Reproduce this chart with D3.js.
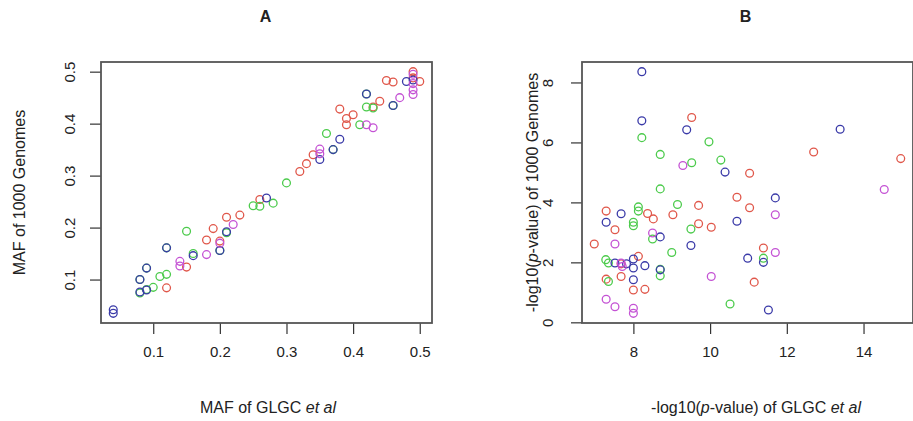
<!DOCTYPE html>
<html>
<head>
<meta charset="utf-8">
<script src="https://cdn.jsdelivr.net/npm/d3@7/dist/d3.min.js"></script>
<style>
  html, body { margin: 0; padding: 0; background: #fff; }
  svg { display: block; }
  text { font-family: "Liberation Sans", Arial, Helvetica, sans-serif; fill: #222; }
</style>
</head>
<body>
<svg id="chart" width="913" height="421"></svg>
<script>
// Trait groups and their point colours
const groupColors = ["#e0574a", "#4ccb4c", "#3a3aa8", "#c452d4"];

// Panel A: minor allele frequency, GLGC vs 1000 Genomes
const mafGLGC = [
  0.12, 0.15, 0.18, 0.19, 0.20, 0.21, 0.23, 0.26, 0.32, 0.33, 0.34, 0.38, 0.39, 0.39, 0.40, 0.43, 0.44, 0.45, 0.46, 0.49, 0.50, 0.49,
  0.08, 0.08, 0.09, 0.09, 0.10, 0.11, 0.12, 0.12, 0.15, 0.16, 0.20, 0.21, 0.25, 0.26, 0.28, 0.30, 0.36, 0.37, 0.41, 0.42, 0.42, 0.43, 0.46,
  0.04, 0.04, 0.08, 0.08, 0.09, 0.09, 0.12, 0.16, 0.20, 0.21, 0.27, 0.35, 0.37, 0.38, 0.42, 0.46, 0.48, 0.49,
  0.14, 0.14, 0.18, 0.20, 0.22, 0.35, 0.35, 0.42, 0.43, 0.47, 0.49, 0.49, 0.49, 0.49
];
const maf1000G = [
  0.084, 0.124, 0.176, 0.198, 0.174, 0.220, 0.224, 0.254, 0.308, 0.323, 0.340, 0.428, 0.410, 0.398, 0.417, 0.432, 0.443, 0.483, 0.480, 0.500, 0.481, 0.488,
  0.100, 0.074, 0.122, 0.081, 0.085, 0.106, 0.110, 0.161, 0.193, 0.150, 0.156, 0.190, 0.242, 0.241, 0.247, 0.286, 0.381, 0.350, 0.398, 0.432, 0.457, 0.430, 0.435,
  0.042, 0.035, 0.100, 0.076, 0.122, 0.080, 0.161, 0.146, 0.156, 0.192, 0.257, 0.331, 0.350, 0.370, 0.457, 0.435, 0.481, 0.484,
  0.135, 0.126, 0.148, 0.170, 0.206, 0.351, 0.342, 0.398, 0.392, 0.450, 0.477, 0.465, 0.456, 0.495
];
const mafGroup = [
  0,0,0,0,0,0,0,0,0,0,0,0,0,0,0,0,0,0,0,0,0,0,
  1,1,1,1,1,1,1,1,1,1,1,1,1,1,1,1,1,1,1,1,1,1,1,
  2,2,2,2,2,2,2,2,2,2,2,2,2,2,2,2,2,2,
  3,3,3,3,3,3,3,3,3,3,3,3,3,3
];

// Panel B: -log10(p-value), GLGC vs 1000 Genomes
const pGLGC = [
  9.52, 11.03, 12.70, 14.97, 9.70, 10.70, 11.03, 9.70, 10.03, 9.03, 8.37, 8.52, 7.29, 7.52, 6.98, 11.39, 11.15, 8.13, 7.29, 7.68, 8.00, 8.30, 7.68,
  8.22, 9.97, 8.70, 9.52, 10.28, 8.70, 9.15, 9.50, 8.13, 8.13, 8.00, 8.00, 8.50, 9.00, 11.39, 10.52, 7.28, 7.35, 8.70, 7.35, 8.70,
  8.22, 8.22, 9.39, 10.39, 13.39, 11.70, 10.70, 9.50, 7.68, 7.29, 8.70, 10.98, 11.39, 11.52, 7.52, 7.82, 8.00, 8.00, 8.30, 8.70, 8.00,
  9.29, 14.54, 11.70, 7.52, 8.50, 11.70, 10.03, 7.68, 7.71, 7.29, 7.52, 8.00, 8.00
];
const p1000G = [
  6.83, 4.97, 5.68, 5.46, 3.90, 4.17, 3.82, 3.29, 3.17, 3.59, 3.63, 3.45, 3.71, 3.09, 2.61, 2.48, 1.34, 2.20, 1.44, 1.53, 1.08, 1.10, 1.95,
  6.16, 6.02, 5.60, 5.32, 5.41, 4.45, 3.93, 3.11, 3.85, 3.71, 3.34, 3.22, 2.78, 2.33, 2.14, 0.61, 2.09, 1.98, 1.77, 1.36, 1.55,
  8.36, 6.72, 6.42, 5.01, 6.44, 4.15, 3.37, 2.56, 3.62, 3.34, 2.85, 2.14, 2.00, 0.41, 1.98, 1.95, 2.11, 1.81, 1.89, 1.75, 1.42,
  5.23, 4.43, 3.59, 2.61, 2.98, 2.33, 1.53, 1.98, 1.86, 0.77, 0.52, 0.47, 0.30
];
const pGroup = [
  0,0,0,0,0,0,0,0,0,0,0,0,0,0,0,0,0,0,0,0,0,0,0,
  1,1,1,1,1,1,1,1,1,1,1,1,1,1,1,1,1,1,1,1,1,
  2,2,2,2,2,2,2,2,2,2,2,2,2,2,2,2,2,2,2,2,2,
  3,3,3,3,3,3,3,3,3,3,3,3,3
];

const mafTicks = [0.1, 0.2, 0.3, 0.4, 0.5];
const mafTickLabels = ["0.1", "0.2", "0.3", "0.4", "0.5"];
const pTicksX = [8, 10, 12, 14];
const pTicksXLabels = ["8", "10", "12", "14"];
const pTicksY = [0, 2, 4, 6, 8];
const pTicksYLabels = ["0", "2", "4", "6", "8"];

const svg = d3.select("#chart");
svg.append("rect").attr("width", 913).attr("height", 421).attr("fill", "#fff");

// R-style axis range: data extent padded by 4% on each side
function padded(values) {
  const [lo, hi] = d3.extent(values);
  const pad = (hi - lo) * 0.04;
  return [lo - pad, hi + pad];
}

function drawPanel(cfg) {
  const g = svg.append("g");
  const x = d3.scaleLinear().domain(padded(cfg.xs)).range([cfg.left, cfg.right]);
  const y = d3.scaleLinear().domain(padded(cfg.ys)).range([cfg.bottom, cfg.top]);

  // points
  const pts = d3.range(cfg.xs.length);
  g.append("g").selectAll("circle").data(pts).join("circle")
    .attr("cx", i => x(cfg.xs[i]))
    .attr("cy", i => y(cfg.ys[i]))
    .attr("r", 3.9)
    .attr("fill", "none")
    .attr("stroke", i => groupColors[cfg.groups[i]])
    .attr("stroke-width", 1.3);

  // bottom axis
  const xa = g.append("g").attr("transform", `translate(0,${cfg.bottom})`)
    .call(d3.axisBottom(x).tickValues(cfg.xTicks)
      .tickFormat((d, i) => cfg.xTickLabels[i]).tickSize(11).tickPadding(12));
  xa.select(".domain").remove();
  xa.selectAll("line").attr("stroke", "#333").attr("stroke-width", 1.2);
  xa.selectAll("text").attr("font-size", 15).attr("fill", "#222")
    .attr("font-family", "Liberation Sans, Arial, sans-serif");

  // left axis, labels rotated parallel to the axis
  const ya = g.append("g").attr("transform", `translate(${cfg.left},0)`)
    .call(d3.axisLeft(y).tickValues(cfg.yTicks)
      .tickFormat((d, i) => cfg.yTickLabels[i]).tickSize(11));
  ya.select(".domain").remove();
  ya.selectAll("line").attr("stroke", "#333").attr("stroke-width", 1.2);
  ya.selectAll("text")
    .attr("x", null).attr("dy", null)
    .attr("font-size", 15).attr("fill", "#222")
    .attr("font-family", "Liberation Sans, Arial, sans-serif")
    .attr("text-anchor", "middle")
    .attr("dominant-baseline", "central")
    .attr("transform", `translate(${-cfg.yLabelOffset},0) rotate(-90)`);

  // frame
  g.append("rect")
    .attr("x", cfg.left).attr("y", cfg.top)
    .attr("width", cfg.right - cfg.left).attr("height", cfg.bottom - cfg.top)
    .attr("fill", "none").attr("stroke", "#555").attr("stroke-width", 1.8);

  // panel letter
  g.append("text")
    .attr("x", (cfg.left + cfg.right) / 2 + cfg.titleShift).attr("y", 22)
    .attr("text-anchor", "middle").attr("font-size", 16).attr("font-weight", "bold")
    .attr("fill", "#111")
    .text(cfg.title);

  // x title
  const xt = g.append("text")
    .attr("x", cfg.xTitleX).attr("y", 413)
    .attr("text-anchor", "middle").attr("font-size", 16);
  cfg.xTitle.forEach(p => xt.append("tspan").attr("font-style", p[1] ? "italic" : null).text(p[0]));

  // y title
  const yt = g.append("text")
    .attr("transform", `translate(${cfg.yTitleX},${(cfg.top + cfg.bottom) / 2}) rotate(-90)`)
    .attr("text-anchor", "middle").attr("font-size", 16);
  cfg.yTitle.forEach(p => yt.append("tspan").attr("font-style", p[1] ? "italic" : null).text(p[0]));
}

drawPanel({
  xs: mafGLGC, ys: maf1000G, groups: mafGroup,
  left: 101, right: 432, top: 62, bottom: 323,
  xTicks: mafTicks, xTickLabels: mafTickLabels,
  yTicks: mafTicks, yTickLabels: mafTickLabels,
  yLabelOffset: 32, title: "A", titleShift: -1,
  xTitleX: 268, yTitleX: 25,
  xTitle: [["MAF of GLGC ", false], ["et al", true]],
  yTitle: [["MAF of 1000 Genomes", false]]
});

drawPanel({
  xs: pGLGC, ys: p1000G, groups: pGroup,
  left: 582, right: 913, top: 62, bottom: 323,
  xTicks: pTicksX, xTickLabels: pTicksXLabels,
  yTicks: pTicksY, yTickLabels: pTicksYLabels,
  yLabelOffset: 35, title: "B", titleShift: -2,
  xTitleX: 756, yTitleX: 538,
  xTitle: [["-log10(", false], ["p", true], ["-value) of GLGC ", false], ["et al", true]],
  yTitle: [["-log10(", false], ["p", true], ["-value) of 1000 Genomes", false]]
});
</script>
</body>
</html>
